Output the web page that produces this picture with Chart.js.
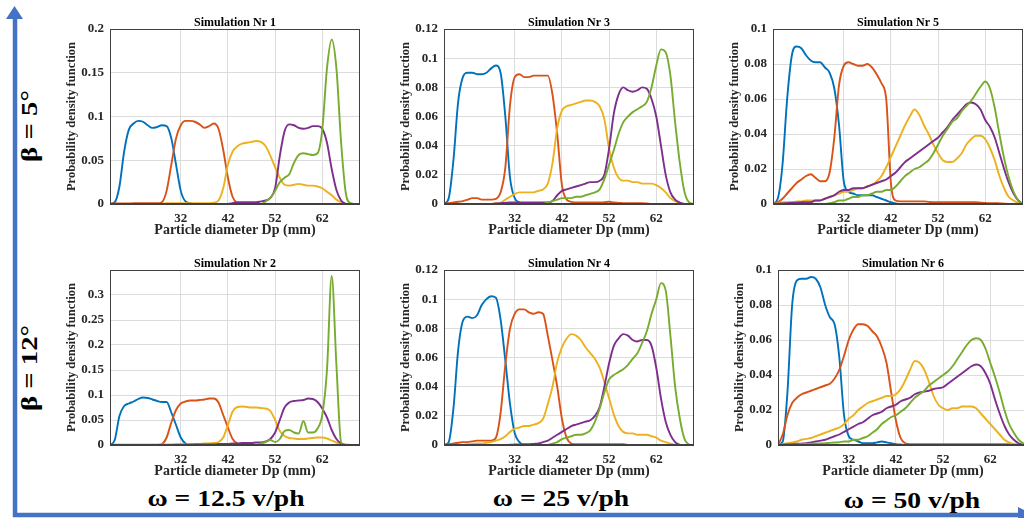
<!DOCTYPE html>
<html>
<head>
<meta charset="utf-8">
<title>Particle diameter PDFs</title>
<script src="https://cdn.jsdelivr.net/npm/chart.js@4.4.0/dist/chart.umd.min.js"></script>
<style>
  html, body { margin: 0; padding: 0; background: #fff; }
  body { width: 1024px; height: 518px; overflow: hidden; position: relative; }
  canvas { position: absolute; }
  .big {
    position: absolute;
    font-family: "Liberation Serif", "Times New Roman", serif;
    font-weight: bold;
    font-size: 23px;
    color: #000;
    white-space: nowrap;
  }
</style>
</head>
<body>
<svg width="1024" height="518" style="position:absolute;left:0;top:0">
  <line x1="15" y1="517" x2="15" y2="17" stroke="#4472C4" stroke-width="4.5"/>
  <polygon points="6,19 23,19 14.5,6" fill="#4472C4"/>
  <line x1="13" y1="515" x2="1020" y2="515" stroke="#4472C4" stroke-width="4.5"/>
  <polygon points="1018,507 1018,523 1034,515" fill="#4472C4"/>
</svg>
<div class="big" style="left:30px;top:126px;transform:translate(-50%,-50%) rotate(-90deg) scaleX(1.25)">β = 5°</div>
<div class="big" style="left:30px;top:368px;transform:translate(-50%,-50%) rotate(-90deg) scaleX(1.25)">β = 12°</div>
<div class="big" style="left:226px;top:499px;transform:translate(-50%,-50%) scaleX(1.2)">ω = 12.5 v/ph</div>
<div class="big" style="left:561px;top:499px;transform:translate(-50%,-50%) scaleX(1.2)">ω = 25 v/ph</div>
<div class="big" style="left:912px;top:501px;transform:translate(-50%,-50%) scaleX(1.2)">ω = 50 v/ph</div>

<script>
const _ = null;

// particle diameter grid (mm), shared by every curve
const dp = [
  17, 18, 19, 20, 21, 22, 23, 24, 25, 26,
  27, 28, 29, 30, 31, 32, 33, 34, 35, 36,
  37, 38, 39, 40, 41, 42, 43, 44, 45, 46,
  47, 48, 49, 50, 51, 52, 53, 54, 55, 56,
  57, 58, 59, 60, 61, 62, 63, 64, 65, 66,
  67, 68, 69, 70
];
const xTickVals = [32, 42, 52, 62];

const seriesNames = ["Class 1", "Class 2", "Class 3", "Class 4", "Class 5"];
const seriesColors = ["#0072BD", "#D95319", "#EDB120", "#7E2F8E", "#77AC30"];

// Simulation Nr 1
const sim1Blue = [
  0, 0.002, 0.02, 0.06, 0.085, 0.092, 0.095, 0.094, 0.09, 0.087,
  0.088, 0.09, 0.089, 0.075, 0.045, 0.015, 0.003, 0.001, 0, 0,
  0, 0, 0, 0, 0, 0, 0, 0, 0, 0,
  0, 0, 0, 0, 0, 0, _, _, _, _,
  _, _, _, _, _, _, _, _, _, _,
  _, _, _, _
];
const sim1Orange = [
  0.0005, 0.0005, 0.0005, 0.0005, 0.0005, 0.0008, 0.001, 0.001, 0.001, 0.0008,
  0.0008, 0.002, 0.015, 0.045, 0.075, 0.09, 0.095, 0.095, 0.094, 0.091,
  0.087, 0.089, 0.092, 0.086, 0.062, 0.03, 0.008, 0.001, 0, 0,
  0, 0, 0, 0, 0, 0, 0, 0, 0, 0,
  0, _, _, _, _, _, _, _, _, _,
  _, _, _, _
];
const sim1Yellow = [
  _, _, _, _, _, _, _, _, _, _,
  _, 0, 0.001, 0.001, 0.001, 0.001, 0.001, 0.001, 0.001, 0.001,
  0.001, 0.001, 0.0015, 0.004, 0.018, 0.045, 0.06, 0.066, 0.069, 0.07,
  0.071, 0.072, 0.071, 0.066, 0.055, 0.042, 0.03, 0.022, 0.021, 0.022,
  0.023, 0.022, 0.021, 0.021, 0.02, 0.018, 0.014, 0.01, 0.005, 0.002,
  0, _, _, _
];
const sim1Purple = [
  _, _, _, _, _, _, _, _, _, _,
  _, _, _, _, _, _, _, _, 0, 0,
  0, 0, 0, 0, 0, 0, 0.001, 0.002, 0.002, 0.002,
  0.002, 0.002, 0.003, 0.004, 0.007, 0.018, 0.055, 0.083, 0.091, 0.09,
  0.087, 0.086, 0.087, 0.089, 0.089, 0.086, 0.07, 0.04, 0.016, 0.004,
  0, _, _, _
];
const sim1Green = [
  _, _, _, _, _, _, _, _, _, _,
  _, _, _, _, _, _, _, _, _, _,
  _, _, _, _, _, _, 0, 0, 0, 0,
  0, 0, 0, 0.003, 0.007, 0.015, 0.025, 0.03, 0.034, 0.047,
  0.056, 0.058, 0.057, 0.056, 0.058, 0.085, 0.155, 0.188, 0.155, 0.07,
  0.012, 0.001, 0, _
];

// Simulation Nr 2
const sim2Blue = [
  0, 0.01, 0.058, 0.078, 0.083, 0.087, 0.092, 0.095, 0.094, 0.091,
  0.088, 0.086, 0.086, 0.065, 0.04, 0.015, 0.003, 0, 0, 0,
  0, 0, 0, 0, 0, 0, 0, _, _, _,
  _, _, _, _, _, _, _, _, _, _,
  _, _, _, _, _, _, _, _, _, _,
  _, _, _, _
];
const sim2Orange = [
  0.0005, 0.0005, 0.0005, 0.0005, 0.0005, 0.0005, 0.0005, 0.0005, 0.0005, 0.0005,
  0.0005, 0.002, 0.015, 0.045, 0.07, 0.083, 0.087, 0.089, 0.089, 0.09,
  0.091, 0.093, 0.093, 0.085, 0.06, 0.035, 0.012, 0.003, 0.0005, 0,
  0, 0, 0, 0, 0, 0, 0, 0, 0, 0,
  0, _, _, _, _, _, _, _, _, _,
  _, _, _, _
];
const sim2Yellow = [
  _, _, _, _, _, _, _, _, _, _,
  0, 0.001, 0.001, 0.001, 0.001, 0.001, 0.001, 0.002, 0.002, 0.002,
  0.003, 0.003, 0.004, 0.006, 0.015, 0.04, 0.067, 0.076, 0.077, 0.076,
  0.075, 0.075, 0.074, 0.073, 0.068, 0.05, 0.028, 0.018, 0.014, 0.013,
  0.012, 0.012, 0.013, 0.014, 0.015, 0.015, 0.013, 0.009, 0.005, 0.002,
  0.001, 0, _, _
];
const sim2Purple = [
  _, _, _, _, _, _, _, _, _, _,
  _, _, _, 0, 0.0005, 0.0005, 0.0005, 0.0005, 0.001, 0.001,
  0.001, 0.001, 0.001, 0.002, 0.002, 0.002, 0.003, 0.003, 0.004, 0.004,
  0.004, 0.005, 0.005, 0.007, 0.012, 0.025, 0.05, 0.075, 0.085, 0.088,
  0.089, 0.09, 0.093, 0.092, 0.086, 0.073, 0.055, 0.03, 0.012, 0.003,
  0, _, _, _
];
const sim2Green = [
  _, _, _, _, _, _, _, _, _, _,
  _, _, _, _, _, _, _, _, _, _,
  _, _, _, _, _, _, _, _, _, _,
  _, 0, 0.003, 0.006, 0.01, 0.006, 0.012, 0.028, 0.03, 0.025,
  0.023, 0.048, 0.025, 0.025, 0.033, 0.06, 0.15, 0.338, 0.16, 0.005,
  0, _, _, _
];

// Simulation Nr 3
const sim3Blue = [
  0, 0.004, 0.03, 0.07, 0.087, 0.09, 0.09, 0.089, 0.089, 0.09,
  0.093, 0.095, 0.09, 0.06, 0.018, 0.004, 0.001, 0, 0, 0,
  0, 0, 0, 0, 0, 0, 0, 0, _, _,
  _, _, _, _, _, _, _, _, _, _,
  _, _, _, _, _, _, _, _, _, _,
  _, _, _, _
];
const sim3Orange = [
  0, 0.0005, 0.001, 0.0015, 0.002, 0.003, 0.004, 0.004, 0.003, 0.003,
  0.003, 0.0035, 0.008, 0.025, 0.068, 0.087, 0.089, 0.087, 0.087, 0.088,
  0.088, 0.088, 0.088, 0.075, 0.048, 0.013, 0.003, 0.0015, 0.001, 0.001,
  0.001, 0.001, 0.001, 0.001, 0.0012, 0.0015, 0.001, 0.0008, 0.0006, 0.0005,
  0.0005, 0.0005, 0.0005, 0.0003, 0, _, _, _, _, _,
  _, _, _, _
];
const sim3Yellow = [
  _, _, _, _, _, _, _, _, _, _,
  0, 0.0005, 0.001, 0.003, 0.005, 0.007, 0.008, 0.008, 0.008, 0.008,
  0.009, 0.01, 0.014, 0.028, 0.052, 0.064, 0.067, 0.068, 0.069, 0.07,
  0.071, 0.071, 0.07, 0.067, 0.058, 0.038, 0.025, 0.018, 0.016, 0.016,
  0.015, 0.015, 0.014, 0.014, 0.014, 0.013, 0.011, 0.008, 0.004, 0.002,
  0.0005, 0, _, _
];
const sim3Purple = [
  _, _, _, _, _, _, _, _, _, _,
  0, 0.0003, 0.0005, 0.0008, 0.001, 0.001, 0.001, 0.001, 0.001, 0.001,
  0.001, 0.001, 0.001, 0.002, 0.006, 0.009, 0.01, 0.011, 0.012, 0.013,
  0.014, 0.015, 0.015, 0.016, 0.02, 0.038, 0.062, 0.075, 0.08, 0.078,
  0.077, 0.078, 0.08, 0.079, 0.072, 0.06, 0.04, 0.02, 0.008, 0.003,
  0.001, 0, _, _
];
const sim3Green = [
  _, _, _, _, _, _, _, _, _, _,
  _, _, _, _, _, _, _, _, _, _,
  _, 0, 0.001, 0.002, 0.003, 0.004, 0.004, 0.004, 0.005, 0.005,
  0.006, 0.007, 0.008, 0.01, 0.017, 0.027, 0.037, 0.048, 0.056, 0.06,
  0.063, 0.065, 0.067, 0.07, 0.08, 0.095, 0.106, 0.104, 0.088, 0.056,
  0.028, 0.008, 0.001, 0
];

// Simulation Nr 4
const sim4Blue = [
  0, 0.002, 0.025, 0.065, 0.085, 0.088, 0.087, 0.089, 0.096, 0.1,
  0.102, 0.101, 0.086, 0.058, 0.028, 0.008, 0.002, 0, 0, _,
  _, _, _, _, _, _, _, _, _, _,
  _, _, _, _, _, _, _, _, _, _,
  _, _, _, _, _, _, _, _, _, _,
  _, _, _, _
];
const sim4Orange = [
  0, 0.0005, 0.001, 0.0015, 0.002, 0.002, 0.0025, 0.003, 0.003, 0.003,
  0.003, 0.005, 0.022, 0.055, 0.08, 0.09, 0.093, 0.093, 0.091, 0.09,
  0.091, 0.09, 0.075, 0.058, 0.04, 0.018, 0.005, 0.001, 0.0005, 0.0005,
  0.0005, 0.0005, 0.0005, 0.0005, 0.0005, 0.0005, 0.0005, 0.0005, 0.0005, 0,
  _, _, _, _, _, _, _, _, _, _,
  _, _, _, _
];
const sim4Yellow = [
  _, _, _, _, 0, 0.0005, 0.0007, 0.001, 0.001, 0.0015,
  0.002, 0.003, 0.004, 0.006, 0.009, 0.011, 0.012, 0.013, 0.013, 0.014,
  0.015, 0.018, 0.028, 0.04, 0.057, 0.067, 0.073, 0.076, 0.075, 0.072,
  0.067, 0.063, 0.059, 0.053, 0.043, 0.032, 0.021, 0.013, 0.009, 0.008,
  0.008, 0.007, 0.007, 0.007, 0.006, 0.005, 0.003, 0.002, 0.001, 0,
  _, _, _, _
];
const sim4Purple = [
  _, _, _, _, _, _, _, _, _, _,
  _, 0, 0, 0, 0.0002, 0.0003, 0.0004, 0.0005, 0.0005, 0.0008,
  0.001, 0.002, 0.003, 0.005, 0.007, 0.009, 0.011, 0.013, 0.014, 0.015,
  0.016, 0.017, 0.02, 0.026, 0.04, 0.056, 0.068, 0.073, 0.076, 0.075,
  0.072, 0.071, 0.072, 0.072, 0.068, 0.053, 0.032, 0.016, 0.007, 0.002,
  0, _, _, _
];
const sim4Green = [
  _, _, _, _, _, _, _, _, _, _,
  _, _, _, _, _, _, _, _, _, _,
  _, _, 0, 0.001, 0.002, 0.004, 0.005, 0.006, 0.007, 0.007,
  0.008, 0.01, 0.016, 0.025, 0.036, 0.045, 0.048, 0.05, 0.052, 0.055,
  0.059, 0.063, 0.07, 0.078, 0.09, 0.1, 0.111, 0.106, 0.075, 0.04,
  0.018, 0.004, 0, _
];

// Simulation Nr 5
const sim5Blue = [
  0, 0.003, 0.022, 0.06, 0.085, 0.09, 0.089, 0.085, 0.082, 0.081,
  0.081, 0.078, 0.075, 0.066, 0.045, 0.013, 0.007, 0.006, 0.005, 0.005,
  0.005, 0.005, 0.004, 0.003, 0.002, 0.001, 0.0003, 0, _, _,
  _, _, _, _, _, _, _, _, _, _,
  _, _, _, _, _, _, _, _, _, _,
  _, _, _, _
];
const sim5Orange = [
  0, 0.001, 0.003, 0.006, 0.009, 0.012, 0.014, 0.016, 0.017, 0.015,
  0.013, 0.013, 0.018, 0.038, 0.068, 0.079, 0.081, 0.08, 0.079, 0.079,
  0.08, 0.078, 0.074, 0.069, 0.06, 0.012, 0.002, 0.0015, 0.0015, 0.0015,
  0.0015, 0.0015, 0.0015, 0.0012, 0.001, 0.001, 0.001, 0.001, 0.001, 0.001,
  0.001, 0.001, 0.001, 0.001, 0.0008, 0.0006, 0.0005, 0.0005, 0.0003, 0.0002,
  0, 0, _, _
];
const sim5Yellow = [
  0, 0.0005, 0.001, 0.001, 0.001, 0.0015, 0.0015, 0.002, 0.002, 0.002,
  0.002, 0.003, 0.004, 0.005, 0.006, 0.007, 0.007, 0.008, 0.009, 0.009,
  0.01, 0.011, 0.013, 0.016, 0.021, 0.027, 0.033, 0.039, 0.045, 0.05,
  0.054, 0.051, 0.045, 0.04, 0.034, 0.029, 0.025, 0.024, 0.024, 0.026,
  0.029, 0.034, 0.037, 0.039, 0.039, 0.037, 0.032, 0.025, 0.016, 0.009,
  0.004, 0.002, 0.0005, 0
];
const sim5Purple = [
  0, 0.0002, 0.0003, 0.0005, 0.0007, 0.0008, 0.001, 0.001, 0.001, 0.002,
  0.002, 0.003, 0.004, 0.005, 0.007, 0.008, 0.008, 0.009, 0.009, 0.009,
  0.01, 0.011, 0.012, 0.013, 0.014, 0.016, 0.018, 0.021, 0.024, 0.026,
  0.028, 0.03, 0.032, 0.034, 0.036, 0.038, 0.041, 0.044, 0.048, 0.051,
  0.054, 0.057, 0.058, 0.057, 0.054, 0.048, 0.044, 0.038, 0.029, 0.02,
  0.012, 0.006, 0.002, 0
];
const sim5Green = [
  _, _, _, _, _, _, _, _, _, _,
  _, 0, 0.0005, 0.001, 0.002, 0.002, 0.003, 0.004, 0.004, 0.005,
  0.005, 0.006, 0.007, 0.007, 0.008, 0.008, 0.01, 0.013, 0.016, 0.018,
  0.02, 0.021, 0.023, 0.025, 0.029, 0.034, 0.039, 0.043, 0.047, 0.049,
  0.053, 0.056, 0.059, 0.063, 0.067, 0.07, 0.066, 0.055, 0.04, 0.026,
  0.015, 0.007, 0.002, 0
];

// Simulation Nr 6
const sim6Blue = [
  0, 0.002, 0.03, 0.08, 0.094, 0.095, 0.095, 0.096, 0.095, 0.09,
  0.08, 0.073, 0.069, 0.05, 0.017, 0.005, 0.003, 0.002, 0.001, 0.001,
  0.001, 0.0015, 0.002, 0.0015, 0.001, 0.0005, 0.0003, 0.0001, 0, _,
  _, _, _, _, _, _, _, _, _, _,
  _, _, _, _, _, _, _, _, _, _,
  _, _, _, _
];
const sim6Orange = [
  0, 0.006, 0.017, 0.024, 0.027, 0.029, 0.03, 0.031, 0.032, 0.033,
  0.034, 0.035, 0.038, 0.043, 0.051, 0.06, 0.066, 0.069, 0.069, 0.068,
  0.065, 0.062, 0.056, 0.047, 0.03, 0.014, 0.004, 0.001, 0.0005, 0.0005,
  0.0005, 0.0005, 0.0005, 0.0005, 0.0005, 0.0005, 0.0005, 0.0005, 0.0005, 0.0005,
  0.0005, 0.0005, 0.0005, 0.0005, 0.0005, 0.0005, 0.0005, 0.0005, 0.0005, 0.0005,
  0.0003, 0.0002, 0.0001, 0
];
const sim6Yellow = [
  0, 0.0005, 0.001, 0.0015, 0.002, 0.003, 0.0035, 0.004, 0.005, 0.006,
  0.007, 0.008, 0.009, 0.01, 0.012, 0.015, 0.017, 0.02, 0.022, 0.024,
  0.025, 0.026, 0.027, 0.028, 0.028, 0.029, 0.032, 0.037, 0.043, 0.048,
  0.047, 0.043, 0.036, 0.028, 0.023, 0.021, 0.02, 0.021, 0.021, 0.022,
  0.022, 0.022, 0.021, 0.018, 0.015, 0.012, 0.009, 0.006, 0.003, 0.0015,
  0.0005, 0, _, _
];
const sim6Purple = [
  0, 0.0002, 0.0003, 0.0005, 0.0007, 0.0008, 0.001, 0.0015, 0.002, 0.0025,
  0.003, 0.004, 0.005, 0.006, 0.0075, 0.009, 0.0105, 0.012, 0.013, 0.015,
  0.017, 0.018, 0.019, 0.021, 0.022, 0.023, 0.025, 0.026, 0.027, 0.029,
  0.03, 0.0305, 0.031, 0.032, 0.0325, 0.033, 0.035, 0.037, 0.039, 0.041,
  0.043, 0.045, 0.046, 0.045, 0.041, 0.035, 0.026, 0.018, 0.011, 0.006,
  0.003, 0.001, 0, _
];
const sim6Green = [
  0, 0, 0, 0.0002, 0.0003, 0.0005, 0.0006, 0.0007, 0.0008, 0.0009,
  0.001, 0.0012, 0.0014, 0.0016, 0.002, 0.002, 0.003, 0.003, 0.004, 0.005,
  0.007, 0.009, 0.012, 0.014, 0.016, 0.017, 0.019, 0.021, 0.024, 0.027,
  0.029, 0.031, 0.034, 0.036, 0.038, 0.04, 0.042, 0.045, 0.049, 0.053,
  0.057, 0.06, 0.061, 0.06, 0.055, 0.047, 0.039, 0.03, 0.02, 0.012,
  0.007, 0.003, 0.001, 0
];

// y axis ticks / limits per panel
const yTicks1 = [0, 0.05, 0.1, 0.15, 0.2];
const yTicks2 = [0, 0.05, 0.1, 0.15, 0.2, 0.25, 0.3];
const yTicks3 = [0, 0.02, 0.04, 0.06, 0.08, 0.1, 0.12];
const yTicks4 = [0, 0.02, 0.04, 0.06, 0.08, 0.1, 0.12];
const yTicks5 = [0, 0.02, 0.04, 0.06, 0.08, 0.1];
const yTicks6 = [0, 0.02, 0.04, 0.06, 0.08, 0.1];

const titles = ["Simulation Nr 1", "Simulation Nr 2", "Simulation Nr 3",
                "Simulation Nr 4", "Simulation Nr 5", "Simulation Nr 6"];

// layout of the six axes boxes (plot-area left/top in page pixels)
const AXW = 250, AXH = 175, YAXIS_W = 46, TOP_PAD = 22, XAXIS_H = 35;
const panels = [
  { title: titles[0], series: [sim1Blue, sim1Orange, sim1Yellow, sim1Purple, sim1Green], yMax: 0.2,  yTicks: yTicks1, left: 110, top: 29 },
  { title: titles[1], series: [sim2Blue, sim2Orange, sim2Yellow, sim2Purple, sim2Green], yMax: 0.35, yTicks: yTicks2, left: 110, top: 270 },
  { title: titles[2], series: [sim3Blue, sim3Orange, sim3Yellow, sim3Purple, sim3Green], yMax: 0.12, yTicks: yTicks3, left: 444, top: 29 },
  { title: titles[3], series: [sim4Blue, sim4Orange, sim4Yellow, sim4Purple, sim4Green], yMax: 0.12, yTicks: yTicks4, left: 444, top: 270 },
  { title: titles[4], series: [sim5Blue, sim5Orange, sim5Yellow, sim5Purple, sim5Green], yMax: 0.1,  yTicks: yTicks5, left: 773, top: 29 },
  { title: titles[5], series: [sim6Blue, sim6Orange, sim6Yellow, sim6Purple, sim6Green], yMax: 0.1,  yTicks: yTicks6, left: 778, top: 270 }
];

Chart.defaults.font.family = '"Liberation Serif", "Times New Roman", serif';
Chart.defaults.color = "#262626";

// box around the axes + panel title centred on the plot area
const panelBox = {
  id: "panelBox",
  afterDraw(chart, args, opts) {
    const { ctx, chartArea: a } = chart;
    const l = Math.round(a.left) + 0.5, t = Math.round(a.top) + 0.5;
    const r = Math.round(a.right) - 0.5, b = Math.round(a.bottom) - 0.5;
    ctx.save();
    ctx.strokeStyle = "#404040";
    ctx.lineWidth = 1;
    ctx.strokeRect(l, t, r - l, b - t);
    ctx.fillStyle = "#000";
    ctx.font = 'bold 12px "Liberation Serif"';
    ctx.textAlign = "center";
    ctx.textBaseline = "alphabetic";
    ctx.fillText(opts.title, (a.left + a.right) / 2, a.top - 3);
    ctx.restore();
  }
};

function makePanel(p) {
  const canvas = document.createElement("canvas");
  canvas.width = YAXIS_W + AXW;
  canvas.height = TOP_PAD + AXH + XAXIS_H;
  canvas.style.left = (p.left - YAXIS_W) + "px";
  canvas.style.top = (p.top - TOP_PAD) + "px";
  document.body.appendChild(canvas);

  new Chart(canvas, {
    type: "line",
    data: {
      datasets: p.series.map((ys, i) => ({
        label: seriesNames[i],
        data: dp.map((x, j) => ({ x: x, y: ys[j] })),
        borderColor: seriesColors[i],
        borderWidth: 1.9,
        pointRadius: 0,
        fill: false,
        cubicInterpolationMode: "monotone",
        order: 5 - i
      }))
    },
    options: {
      responsive: false,
      animation: false,
      events: [],
      layout: { padding: { top: TOP_PAD, left: 0, right: 0, bottom: 0 } },
      plugins: {
        legend: { display: false },
        tooltip: { enabled: false },
        panelBox: { title: p.title }
      },
      scales: {
        x: {
          type: "linear",
          min: 17,
          max: 70,
          afterBuildTicks: axis => { axis.ticks = xTickVals.map(v => ({ value: v })); },
          afterFit: axis => { axis.height = XAXIS_H; },
          ticks: { padding: 7, autoSkip: false, maxRotation: 0,
                   font: { size: 13, weight: "bold" }, color: "#262626" },
          grid: { color: "#dcdcdc", drawTicks: false },
          border: { color: "#404040" },
          title: { display: true, text: "Particle diameter Dp (mm)", padding: 0,
                   font: { size: 14, weight: "bold" }, color: "#262626" }
        },
        y: {
          min: 0,
          max: p.yMax,
          afterBuildTicks: axis => { axis.ticks = p.yTicks.map(v => ({ value: v })); },
          afterFit: axis => { axis.width = YAXIS_W; },
          ticks: { padding: 6, callback: v => String(v),
                   font: { size: 13, weight: "bold" }, color: "#262626" },
          grid: { color: "#dcdcdc", drawTicks: false },
          border: { color: "#404040" },
          title: { display: true, text: "Probability density function", padding: 0,
                   font: { size: 12.5, weight: "bold" }, color: "#262626" }
        }
      }
    },
    plugins: [panelBox]
  });
}

panels.forEach(makePanel);
</script>
</body>
</html>
